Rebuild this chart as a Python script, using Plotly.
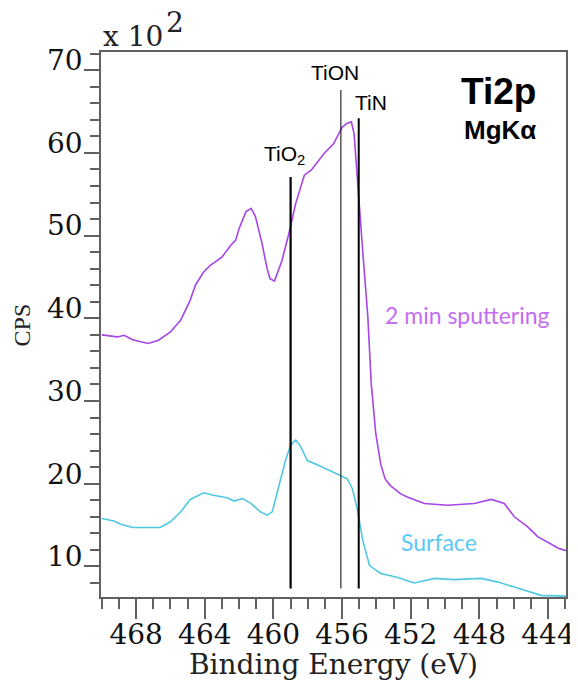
import plotly.graph_objects as go

# ---- data ----
sput_be = [470.0, 469.1, 468.7, 468.2, 467.8, 467.3, 466.7, 466.0, 465.4, 464.85,
           464.55, 464.07, 463.68, 463.0, 462.5, 462.2, 462.0, 461.6, 461.3, 461.05,
           460.66, 460.37, 460.2, 459.94, 459.5, 459.1, 458.7, 458.4, 458.2, 457.8,
           457.06, 456.5, 456.0, 455.7, 455.46, 455.3, 455.07, 454.8, 454.5, 454.3,
           454.04, 453.75, 453.5, 453.2, 452.6, 452.2, 451.2, 449.85, 448.3, 447.3,
           446.55, 445.96, 445.2, 444.6, 443.4, 442.95]
sput_cps = [38.0, 37.75, 37.95, 37.4, 37.2, 36.95, 37.35, 38.35, 39.8, 42.2,
            44.0, 45.6, 46.4, 47.4, 48.8, 49.45, 50.85, 52.9, 53.3, 52.3,
            49.0, 46.0, 44.8, 44.5, 47.0, 50.25, 53.9, 55.9, 57.3, 57.9,
            59.9, 61.1, 63.1, 63.6, 63.75, 62.3, 56.3, 48.2, 40.2, 32.1,
            26.1, 22.4, 20.6, 19.8, 18.8, 18.4, 17.6, 17.4, 17.6, 18.1,
            17.6, 16.0, 14.8, 13.6, 12.2, 11.9]

surf_be = [470.0, 469.3, 468.9, 468.2, 467.2, 466.6, 466.0, 465.4, 464.85, 464.07,
           463.5, 462.7, 462.3, 461.8, 461.3, 460.76, 460.37, 460.07, 459.7, 459.3,
           459.0, 458.7, 458.4, 458.03, 457.45, 456.9, 456.1, 455.7, 455.4, 455.1,
           454.8, 454.4, 453.75, 452.8, 451.8, 450.6, 449.5, 447.9, 446.9, 445.96,
           444.4, 442.95]
surf_cps = [15.8, 15.5, 15.1, 14.7, 14.7, 14.7, 15.4, 16.6, 18.1, 18.9,
            18.6, 18.3, 17.9, 18.2, 17.6, 16.6, 16.2, 16.6, 19.6, 22.8,
            24.65, 25.3, 24.45, 22.8, 22.3, 21.8, 21.0, 20.6, 19.4, 16.8,
            13.2, 10.1, 9.15, 8.7, 8.0, 8.55, 8.4, 8.55, 8.1, 7.5,
            6.5, 6.4]

ref_names = ["TiO<sub>2</sub>", "TiON", "TiN"]
ref_be = [459.0, 456.07, 455.03]
ref_top = [57.1, 67.6, 64.2]
ref_bottom = 7.34
ref_widths = [2.2, 1.0, 2.0]
ref_label_y = [59.8, 69.7, 66.05]
ref_label_shift = [-6, -6, 12]

x_ticks = [468, 464, 460, 456, 452, 448, 444]
y_ticks = [10, 20, 30, 40, 50, 60, 70]

PURPLE = "#a745e6"
PURPLE_TXT = "#c56cf2"
CYAN = "#4fc9e2"
CYAN_TXT = "#5cc8f4"

fig = go.Figure()
fig.add_trace(go.Scatter(x=sput_be, y=sput_cps, mode="lines",
                         line=dict(color=PURPLE, width=1.6), hoverinfo="skip"))
fig.add_trace(go.Scatter(x=surf_be, y=surf_cps, mode="lines",
                         line=dict(color=CYAN, width=1.6), hoverinfo="skip"))
for be, top, w in zip(ref_be, ref_top, ref_widths):
    fig.add_trace(go.Scatter(x=[be, be], y=[ref_bottom, top], mode="lines",
                             line=dict(color="black", width=w), hoverinfo="skip"))

for name, be, ly, sh in zip(ref_names, ref_be, ref_label_y, ref_label_shift):
    fig.add_annotation(x=be, y=ly, xref="x", yref="y", text=name, showarrow=False,
                       xanchor="center", yanchor="middle", xshift=sh,
                       font=dict(family="Liberation Sans", size=21, color="black"))

serif = "DejaVu Serif"
fig.add_annotation(x=0.0, y=1.028, xref="paper", yref="paper", text="x 10",
                   showarrow=False, xanchor="left", yanchor="middle",
                   font=dict(family=serif, size=28, color="#222"))
fig.add_annotation(x=0.159, y=1.055, xref="paper", yref="paper", text="2",
                   showarrow=False, xanchor="center", yanchor="middle",
                   font=dict(family=serif, size=28, color="#222"))
fig.add_annotation(x=-0.17, y=0.5, xref="paper", yref="paper", text="CPS",
                   showarrow=False, textangle=-90, xanchor="center", yanchor="middle",
                   font=dict(family="Liberation Serif", size=24, color="#222"))
fig.add_annotation(x=0.499, y=-0.123, xref="paper", yref="paper", text="Binding Energy (eV)",
                   showarrow=False, xanchor="center", yanchor="middle",
                   font=dict(family=serif, size=28, color="#222"))

fig.add_annotation(x=0.854, y=0.928, xref="paper", yref="paper", text="<b>Ti2p</b>",
                   showarrow=False, xanchor="center", yanchor="middle",
                   font=dict(family="Liberation Sans", size=37, color="black"))
fig.add_annotation(x=0.858, y=0.857, xref="paper", yref="paper", text="<b>MgKα</b>",
                   showarrow=False, xanchor="center", yanchor="middle",
                   font=dict(family="Liberation Sans", size=26, color="black"))
fig.add_annotation(x=0.789, y=0.517, xref="paper", yref="paper", text="2 min sputtering",
                   showarrow=False, xanchor="center", yanchor="middle",
                   font=dict(family="Lato", size=23, color=PURPLE_TXT))
fig.add_annotation(x=0.727, y=0.101, xref="paper", yref="paper", text="Surface",
                   showarrow=False, xanchor="center", yanchor="middle",
                   font=dict(family="Lato", size=23, color=CYAN_TXT))

axis_col = "#606060"
fig.update_xaxes(range=[470.05, 442.95], tickmode="array", tickvals=x_ticks,
                 ticktext=[str(v) for v in x_ticks], ticks="outside", ticklen=20,
                 tickwidth=1.5, tickcolor=axis_col, showline=True, linecolor=axis_col,
                 linewidth=1.5, mirror=True, showgrid=False, zeroline=False,
                 ticklabelstandoff=-8, automargin=False,
                 minor=dict(dtick=1, tick0=444, ticks="outside", ticklen=10,
                            tickwidth=1.5, tickcolor=axis_col, showgrid=False),
                 tickfont=dict(family=serif, size=28, color="#111"))
fig.update_yaxes(range=[6.3, 72.2], tickmode="array", tickvals=y_ticks,
                 ticktext=[str(v) for v in y_ticks], ticks="outside", ticklen=15,
                 tickwidth=1.5, tickcolor=axis_col, showline=True, linecolor=axis_col,
                 linewidth=1.5, mirror=True, showgrid=False, zeroline=False,
                 ticklabelshift=-10, ticklabelstandoff=-4, automargin=False,
                 minor=dict(dtick=2, tick0=0, ticks="outside", ticklen=9,
                            tickwidth=1.5, tickcolor=axis_col, showgrid=False),
                 tickfont=dict(family=serif, size=28, color="#111"))

# the page body adds an 8px offset, so the figure is 8px smaller and margins are compensated
fig.update_layout(width=570, height=678, showlegend=False,
                  margin=dict(l=93, r=12, t=44, b=89, autoexpand=False),
                  paper_bgcolor="white", plot_bgcolor="white")

fig.write_html("out.html")
